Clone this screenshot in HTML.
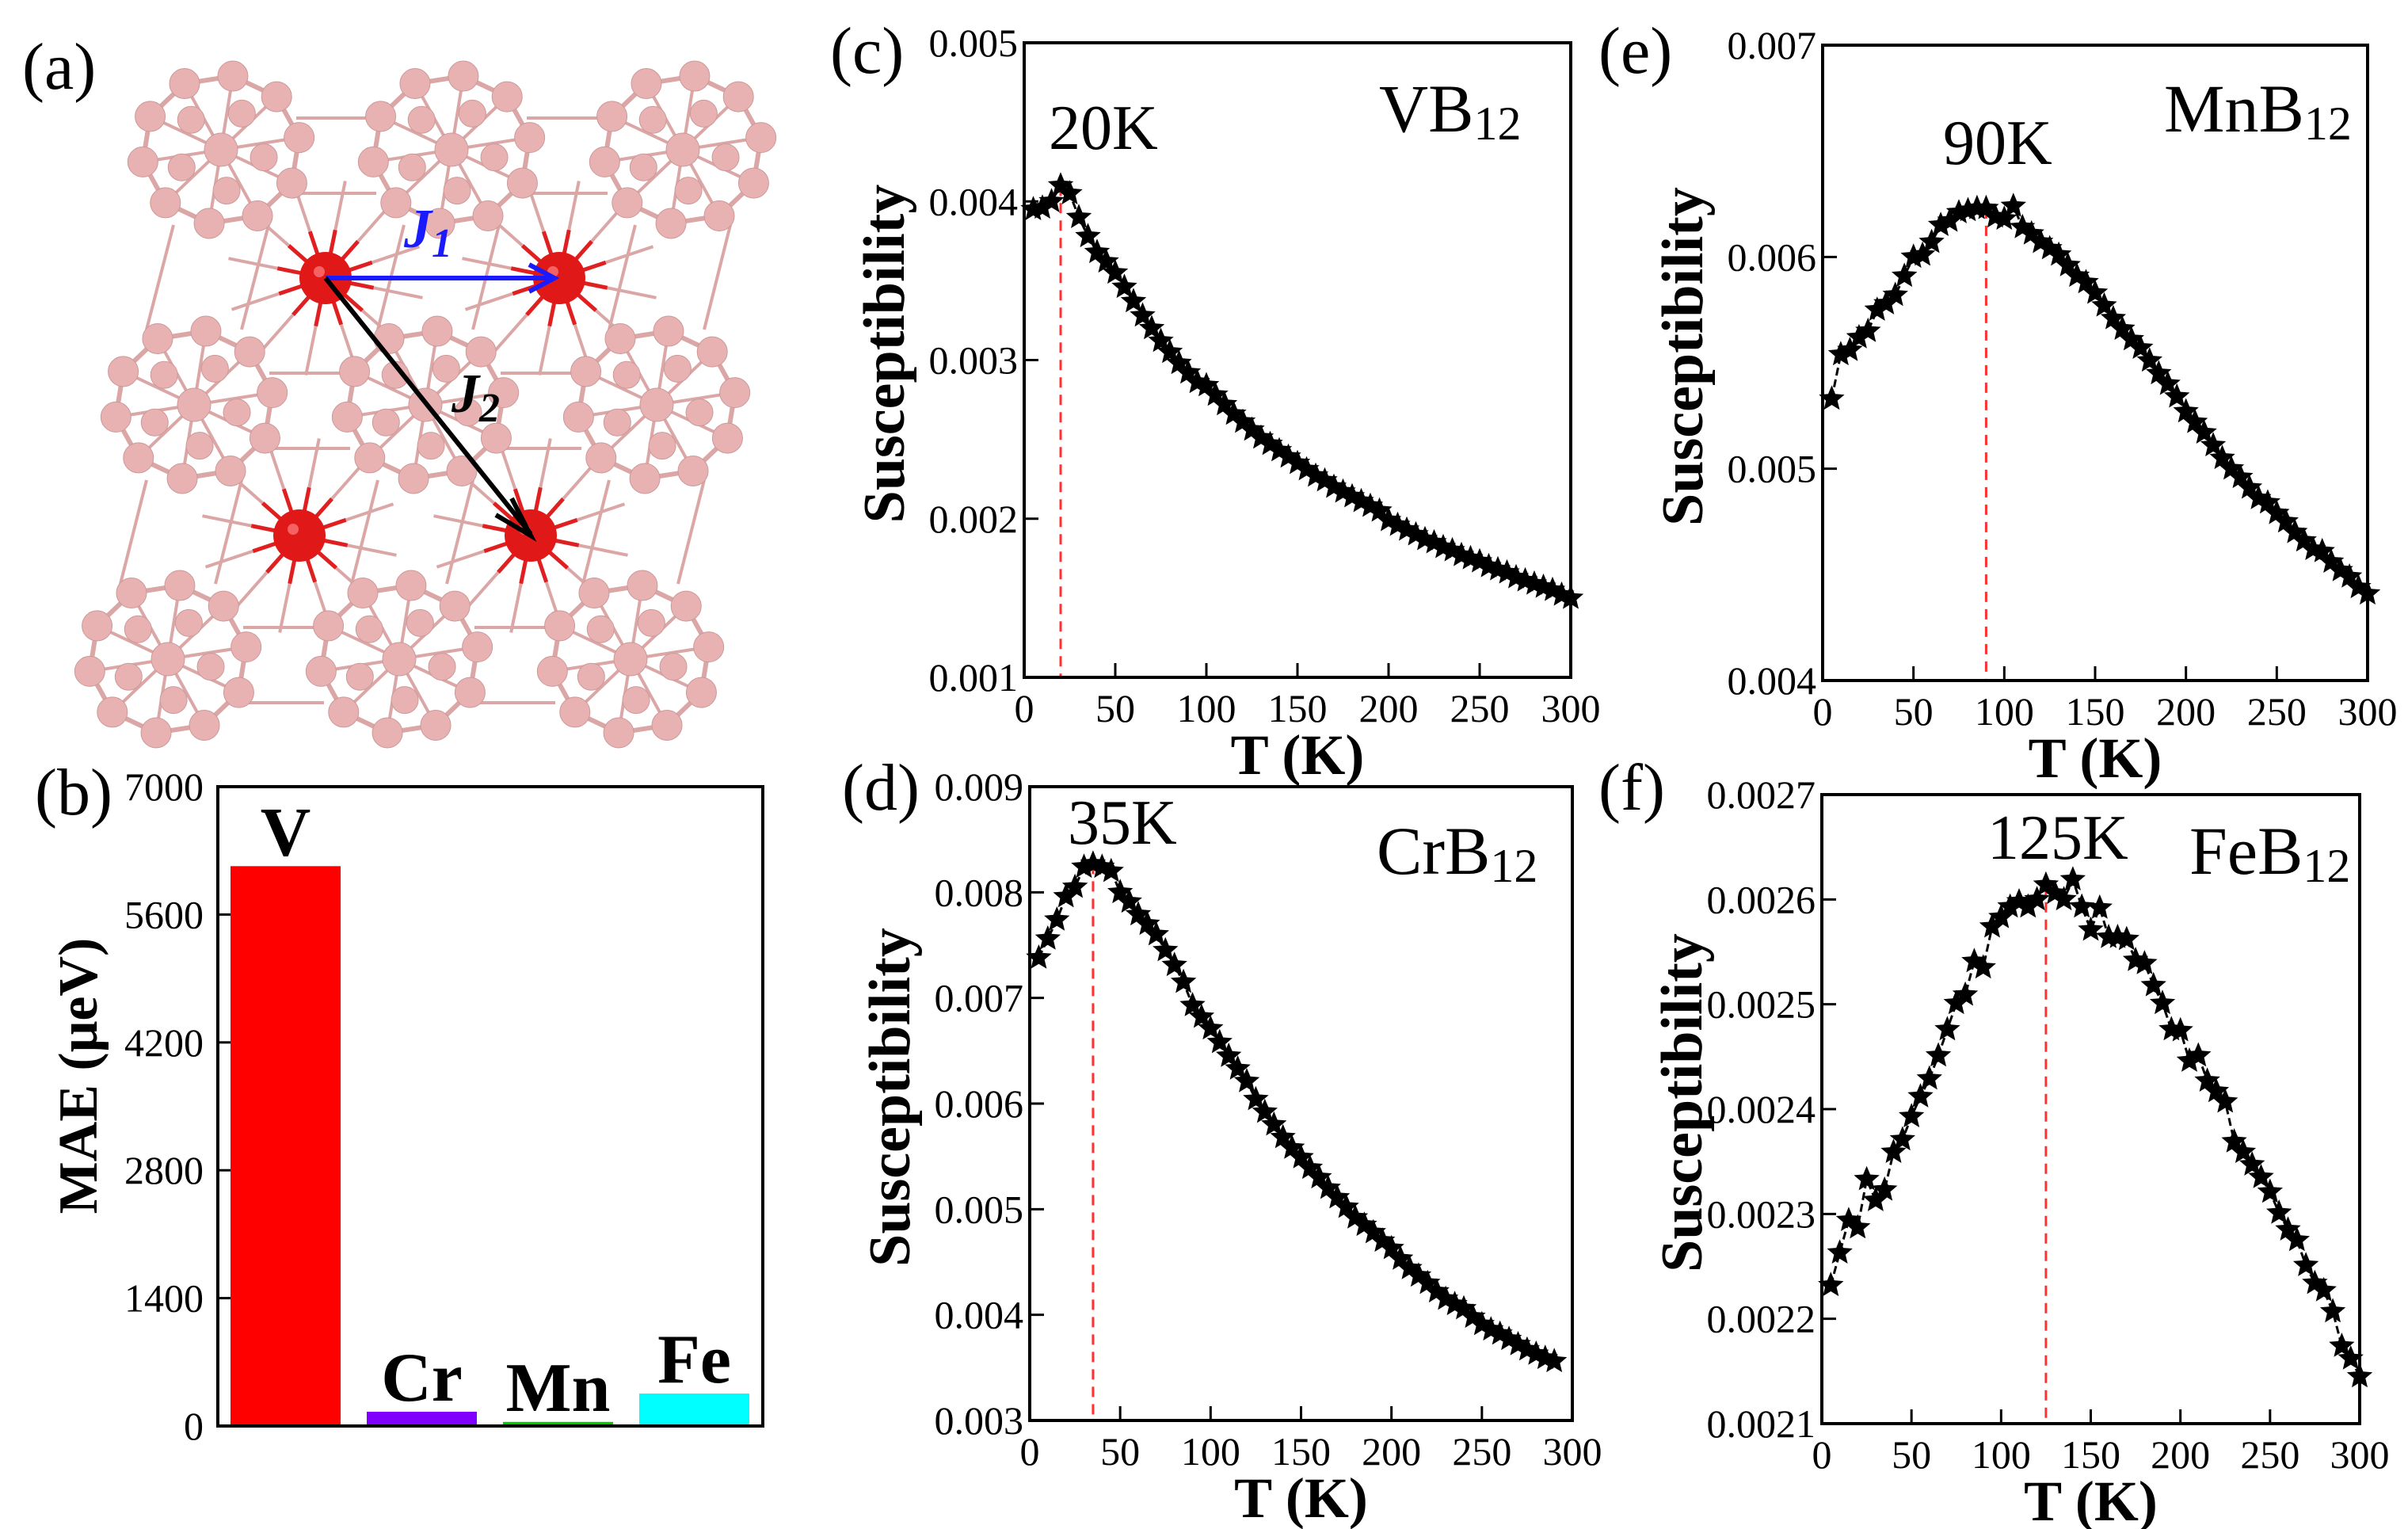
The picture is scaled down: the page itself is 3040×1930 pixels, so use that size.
<!DOCTYPE html>
<html><head><meta charset="utf-8">
<style>
html,body{margin:0;padding:0;background:#fff;}
svg{display:block;}
text{font-family:"Liberation Serif","Times New Roman","DejaVu Serif",serif;}
</style></head>
<body>
<svg id="fig" width="3040" height="1930" viewBox="0 0 3040 1930" xmlns="http://www.w3.org/2000/svg">
<g id="structure"></g>
<g id="bars"></g>
<g id="charts"></g>
</svg>
<script>
// ===== Bar chart data (b) =====
const barCategories = ['V','Cr','Mn','Fe'];
const barValues = [6130, 156, 45, 356];
const barColors = ['#ff0000','#8000ff','#00cc00','#00ffff'];
const barTicks = [0,1400,2800,4200,5600,7000];

// ===== Susceptibility data =====
const xTicks = [0,50,100,150,200,250,300];
const vbT = [5,10,15,20,25,30,35,40,45,50,55,60,65,70,75,80,85,90,95,100,105,110,115,120,125,130,135,140,145,150,155,160,165,170,175,180,185,190,195,200,205,210,215,220,225,230,235,240,245,250,255,260,265,270,275,280,285,290,295,300];
const vbChi = [.00395,.00396,.0040,.0041,.00405,.0039,.00378,.00368,.00362,.00355,.00346,.00337,.00328,.0032,.00312,.00305,.00298,.00292,.00286,.00284,.00278,.00272,.00266,.00261,.00256,.00251,.00247,.00243,.00239,.00235,.00231,.00227,.00224,.00220,.00217,.00214,.00211,.00208,.00205,.00199,.00196,.00193,.00190,.00187,.00185,.00182,.00180,.00177,.00175,.00173,.00170,.00168,.00166,.00163,.00161,.00159,.00157,.00155,.00152,.00150];
const vbYTicks = [0.001,0.002,0.003,0.004,0.005];
const vbYLabels = ['0.001','0.002','0.003','0.004','0.005'];

const crT = [5,10,15,20,25,30,35,40,45,50,55,60,65,70,75,80,85,90,95,100,105,110,115,120,125,130,135,140,145,150,155,160,165,170,175,180,185,190,195,200,205,210,215,220,225,230,235,240,245,250,255,260,265,270,275,280,285,290];
const crChi = [.00738,.00756,.00774,.00796,.00805,.00824,.00827,.00824,.0082,.008,.00791,.00779,.0077,.0076,.00745,.00731,.00715,.00693,.00682,.00671,.00658,.00645,.00633,.00621,.00604,.00592,.0058,.00568,.00558,.00549,.00539,.0053,.0052,.00511,.00502,.00492,.00485,.00478,.0047,.00463,.00453,.00444,.00437,.0043,.00422,.00415,.0041,.00406,.00398,.00391,.00386,.00382,.00377,.00372,.00367,.00363,.00359,.00356];
const crYTicks = [0.003,0.004,0.005,0.006,0.007,0.008,0.009];
const crYLabels = ['0.003','0.004','0.005','0.006','0.007','0.008','0.009'];

const mnT = [5,10,15,20,25,30,35,40,45,50,55,60,65,70,75,80,85,90,95,100,105,110,115,120,125,130,135,140,145,150,155,160,165,170,175,180,185,190,195,200,205,210,215,220,225,230,235,240,245,250,255,260,265,270,275,280,285,290,295,300];
const mnChi = [.00533,.00554,.00556,.00562,.00565,.00575,.00578,.00582,.00591,.006,.00601,.00607,.00615,.00617,.00621,.00622,.00623,.00623,.00619,.00618,.00624,.00614,.00611,.00607,.00604,.00601,.00596,.00591,.00588,.00583,.00577,.00571,.00566,.00561,.00557,.00551,.00545,.0054,.00534,.00527,.00522,.00517,.00511,.00505,.005,.00496,.00491,.00486,.00484,.00479,.00475,.0047,.00466,.00462,.00461,.00456,.00452,.00449,.00444,.00441];
const mnYTicks = [0.004,0.005,0.006,0.007];
const mnYLabels = ['0.004','0.005','0.006','0.007'];

const feT = [5,10,15,20,25,30,35,40,45,50,55,60,65,70,75,80,85,90,95,100,105,110,115,120,125,130,135,140,145,150,155,160,165,170,175,180,185,190,195,200,205,210,215,220,225,230,235,240,245,250,255,260,265,270,275,280,285,290,295,300];
const feChi = [.002232,.002263,.002294,.002287,.002333,.002313,.002323,.002359,.002371,.002393,.002412,.002429,.002451,.002476,.002501,.002509,.002541,.002535,.002574,.002583,.002593,.002598,.002593,.0026,.002614,.002606,.0026,.002619,.002593,.002571,.002592,.002564,.002564,.002562,.002542,.002539,.002518,.002501,.002476,.002475,.002446,.002451,.002427,.002417,.002407,.002369,.002359,.002347,.002335,.002321,.002301,.002285,.002275,.002251,.002234,.002227,.002207,.002174,.002162,.002145];
const feYTicks = [0.0021,0.0022,0.0023,0.0024,0.0025,0.0026,0.0027];
const feYLabels = ['0.0021','0.0022','0.0023','0.0024','0.0025','0.0026','0.0027'];

const peakT = {vb:20, cr:35, mn:90, fe:125};

const NS='http://www.w3.org/2000/svg';
function mk(parent, tag, attrs, txt){
  const e=document.createElementNS(NS,tag);
  for(const k in attrs) e.setAttribute(k, attrs[k]);
  if(txt!==undefined) e.textContent=txt;
  parent.appendChild(e);
  return e;
}
function starPts(cx,cy,R){
  const r=R*0.45, p=[];
  for(let i=0;i<10;i++){
    const a=-Math.PI/2+i*Math.PI/5, rr=i%2?r:R;
    p.push((cx+rr*Math.cos(a)).toFixed(1)+','+(cy+rr*Math.sin(a)).toFixed(1));
  }
  return p.join(' ');
}

// ===== Structure panel (a) =====
(function(){
  const g=document.getElementById('structure');
  const lbl=mk(g,'text',{x:28,y:112,'font-size':84},'(a)');
  
  
  const clusters=[[279,189],[570,189],[862,189],[245,511],[537,511],[829,511],[212,832],[504,832],[796,832]];
  const reds=[[411,351],[706,351],[378,676],[670,676]];
  const pink='#e8b2b2', bond='#dba6a6';
  const lat=mk(g,'g',{stroke:bond,'stroke-width':4,fill:'none'});
  
  
  for(let i=0;i<9;i++){
    const [x,y]=clusters[i];
    if(i%3<2){const [x2,y2]=clusters[i+1]; mk(lat,'line',{x1:x+95,y1:y-40,x2:x2-95,y2:y2-40}); mk(lat,'line',{x1:x+95,y1:y+55,x2:x2-95,y2:y2+55});}
    if(i<6){const [x2,y2]=clusters[i+3]; mk(lat,'line',{x1:x-60,y1:y+95,x2:x2-60,y2:y2-95}); mk(lat,'line',{x1:x+60,y1:y+95,x2:x2+60,y2:y2-95});}
  }
  const rb=mk(g,'g',{'stroke-width':5});
  
  
  reds.forEach(([x,y])=>{
    for(let k=0;k<12;k++){const a=k*Math.PI/6+0.2;
      mk(rb,'line',{x1:x,y1:y,x2:x+62*Math.cos(a),y2:y+62*Math.sin(a),stroke:'#e02020'});
      mk(rb,'line',{x1:x+62*Math.cos(a),y1:y+62*Math.sin(a),x2:x+125*Math.cos(a),y2:y+125*Math.sin(a),stroke:bond,'stroke-width':4});
    }
  });
  clusters.forEach(([cx,cy])=>{
    const cg=mk(g,'g',{});
    
    
    const pts=[];
    for(let k=0;k<10;k++){const a=k*Math.PI/5-Math.PI/2+0.15; pts.push([cx+100*Math.cos(a),cy+94*Math.sin(a)]);}
    const inner=[];
    for(let k=0;k<5;k++){const a=k*2*Math.PI/5-Math.PI/2+0.5; inner.push([cx+55*Math.cos(a),cy+52*Math.sin(a)]);}
    pts.forEach((p,k)=>{
      const q=pts[(k+1)%10];
      mk(cg,'line',{x1:p[0],y1:p[1],x2:q[0],y2:q[1],stroke:bond,'stroke-width':6});
      mk(cg,'line',{x1:cx,y1:cy,x2:p[0],y2:p[1],stroke:bond,'stroke-width':4});
    });
    mk(cg,'circle',{cx:cx,cy:cy,r:21,fill:pink,stroke:'#c99','stroke-width':1});
    inner.forEach(p=>mk(cg,'circle',{cx:p[0],cy:p[1],r:17,fill:pink,stroke:'#c99','stroke-width':1}));
    pts.forEach(p=>mk(cg,'circle',{cx:p[0],cy:p[1],r:19,fill:pink,stroke:'#c99','stroke-width':1}));
  });
  reds.forEach(([x,y])=>{
    const c=mk(g,'circle',{cx:x,cy:y,r:33,fill:'#e01818'});
    
    
    mk(g,'circle',{cx:x-8,cy:y-8,r:7,fill:'#ff8080',opacity:0.7});
  });
  const a1=mk(g,'line',{x1:411,y1:351,x2:698,y2:351,stroke:'#1a1aff','stroke-width':6});
  
  
  mk(g,'path',{d:'M668,334 L700,351 L668,368',fill:'none',stroke:'#1a1aff','stroke-width':6});
  const a2=mk(g,'line',{x1:411,y1:351,x2:670,y2:674,stroke:'#000','stroke-width':6});
  
  
  mk(g,'path',{d:'M646,629 L670,676 L626,650',fill:'none',stroke:'#000','stroke-width':6});
  const j1=mk(g,'text',{x:510,y:312,'font-size':70,'font-weight':'bold','font-style':'italic',fill:'#1a1aff'},'J');
  mk(j1,'tspan',{'font-size':52,dy:12},'1');
  
  
  const j2=mk(g,'text',{x:570,y:520,'font-size':70,'font-weight':'bold','font-style':'italic',fill:'#000'},'J');
  mk(j2,'tspan',{'font-size':52,dy:12},'2');
  
  
})();

// ===== Bar chart (b) =====
(function(){
  const g=document.getElementById('bars');
  const X0=275,X1=963,Y0=993,Y1=1800,ymax=7000;
  const yS=v=>Y1-(v/ymax)*(Y1-Y0);
  const bw=139;
  const lbl=mk(g,'text',{x:44,y:1028,'font-size':84},'(b)');
  
  
  barCategories.forEach((c,i)=>{
    const x=X0+16+i*(bw+33);
    const r=mk(g,'rect',{x:x,y:yS(barValues[i]),width:bw,height:Y1-yS(barValues[i]),fill:barColors[i]});
    
    
    const t=mk(g,'text',{x:x+bw/2,y:yS(barValues[i])-14,'font-size':88,'font-weight':'bold','text-anchor':'middle'},c);
    
    
  });
  const box=mk(g,'rect',{x:X0,y:Y0,width:X1-X0,height:Y1-Y0,fill:'none',stroke:'#000','stroke-width':4});
  
  
  barTicks.forEach(v=>{
    mk(g,'line',{x1:X0,y1:yS(v),x2:X0+16,y2:yS(v),stroke:'#000','stroke-width':3});
    const t=mk(g,'text',{x:X0-18,y:yS(v)+17,'font-size':50,'text-anchor':'end'},String(v));
    
    
  });
  const yt=mk(g,'text',{x:0,y:0,'font-size':70,'font-weight':'bold','text-anchor':'middle',transform:'translate(122,1358) rotate(-90)'},'MAE (μeV)');
  
  
})();

// ===== Susceptibility panels =====
function panel(cfg){
  const g=mk(document.getElementById('charts'),'g',{});
  
  
  const {X0,X1,Y0,Y1,ymin,ymax}=cfg;
  const xS=v=>X0+v/300*(X1-X0);
  const yS=v=>Y1-(v-ymin)/(ymax-ymin)*(Y1-Y0);
  const pl=mk(g,'text',{x:cfg.plx,y:cfg.ply,'font-size':84},'('+cfg.id+')');
  
  
  const pi=cfg.T.indexOf(cfg.peak);
  const pv=pi>=0?cfg.chi[pi]:ymax;
  const dl=mk(g,'line',{x1:xS(cfg.peak),y1:yS(pv),x2:xS(cfg.peak),y2:Y1,stroke:'#ff3030','stroke-width':3,'stroke-dasharray':'13,9'});
  
  
  const d=cfg.T.map((t,i)=>(i?'L':'M')+xS(t).toFixed(1)+','+yS(cfg.chi[i]).toFixed(1)).join(' ');
  const ln=mk(g,'path',{d:d,fill:'none',stroke:'#000','stroke-width':3,'stroke-dasharray':'10,5'});
  
  
  cfg.T.forEach((t,i)=>{
    const s=mk(g,'polygon',{points:starPts(xS(t),yS(cfg.chi[i]),17),fill:'#000'});
    
    
  });
  const box=mk(g,'rect',{x:X0,y:Y0,width:X1-X0,height:Y1-Y0,fill:'none',stroke:'#000','stroke-width':4});
  
  
  xTicks.forEach(v=>{
    mk(g,'line',{x1:xS(v),y1:Y1,x2:xS(v),y2:Y1-18,stroke:'#000','stroke-width':3});
    const t=mk(g,'text',{x:xS(v),y:Y1+56,'font-size':50,'text-anchor':'middle'},String(v));
    
    
  });
  cfg.yt.forEach((v,i)=>{
    mk(g,'line',{x1:X0,y1:yS(v),x2:X0+18,y2:yS(v),stroke:'#000','stroke-width':3});
    const t=mk(g,'text',{x:X0-8,y:yS(v)+17,'font-size':50,'text-anchor':'end'},cfg.yl[i]);
    
    
  });
  const xt=mk(g,'text',{x:(X0+X1)/2,y:Y1+122,'font-size':72,'font-weight':'bold','text-anchor':'middle'},'T (K)');
  
  
  const yt=mk(g,'text',{x:0,y:0,'font-size':74,'font-weight':'bold','text-anchor':'middle',transform:'translate('+(X0-152)+','+((Y0+Y1)/2-8)+') rotate(-90)'},'Susceptibility');
  
  
  const an=mk(g,'text',{x:cfg.ax,y:cfg.ay,'font-size':80},cfg.peak+'K');
  
  
  const nm=mk(g,'text',{x:cfg.nx,y:cfg.ny,'font-size':86},cfg.name);
  mk(nm,'tspan',{'font-size':60,dy:10},'12');
  
  
}
panel({id:'c',X0:1293,X1:1983,Y0:54,Y1:855,ymin:.001,ymax:.005,T:vbT,chi:vbChi,yt:vbYTicks,yl:vbYLabels,peak:peakT.vb,name:'VB',plx:1048,ply:92,ax:1324,ay:188,nx:1741,ny:166});
panel({id:'e',X0:2301,X1:2989,Y0:57,Y1:859,ymin:.004,ymax:.007,T:mnT,chi:mnChi,yt:mnYTicks,yl:mnYLabels,peak:peakT.mn,name:'MnB',plx:2018,ply:92,ax:2453,ay:207,nx:2732,ny:166});
panel({id:'d',X0:1300,X1:1985,Y0:993,Y1:1793,ymin:.003,ymax:.009,T:crT,chi:crChi,yt:crYTicks,yl:crYLabels,peak:peakT.cr,name:'CrB',plx:1063,ply:1022,ax:1348,ay:1065,nx:1738,ny:1103});
panel({id:'f',X0:2300,X1:2979,Y0:1003,Y1:1797,ymin:.0021,ymax:.0027,T:feT,chi:feChi,yt:feYTicks,yl:feYLabels,peak:peakT.fe,name:'FeB',plx:2018,ply:1022,ax:2509,ay:1084,nx:2764,ny:1103});
</script>
</body></html>
